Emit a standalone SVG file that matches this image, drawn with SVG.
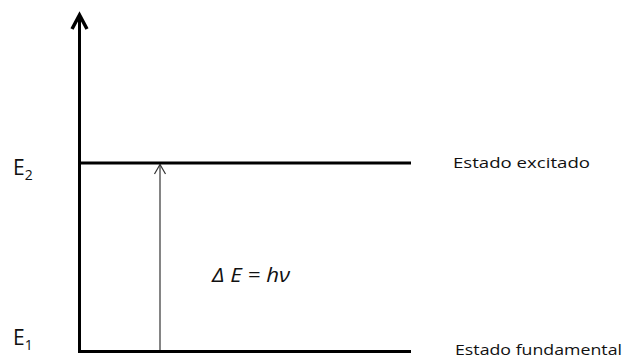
<svg xmlns="http://www.w3.org/2000/svg" width="630" height="358" viewBox="0 0 630 358">
<style>
.lvl{stroke:#000;stroke-width:3;fill:none}
.lbl{font-family:"Open Sans","Liberation Sans",sans-serif;fill:#111}
</style>
<rect width="630" height="358" fill="#fff"/>
<g id="connectors">
<path class="lvl" d="M79.5 353V16"/>
<path d="M72 29L79.5 15L87 29" stroke="#000" stroke-width="3.5" fill="none" stroke-linejoin="miter"/>
<path d="M160 351V165" stroke="#333" stroke-width="1.2"/>
<path d="M154.5 174L160 164.5L165.5 174" stroke="#333" stroke-width="1.2" fill="none"/>
</g>
<g id="E2">
<path class="lvl" d="M78 163H411"/>
<text class="lbl" x="13" y="175" font-size="21">E<tspan font-size="14" dy="5">2</tspan></text>
<text class="lbl" x="453" y="168" font-size="15" textLength="137" lengthAdjust="spacingAndGlyphs">Estado excitado</text>
</g>
<g id="E1">
<path class="lvl" d="M78 351.5H411"/>
<text class="lbl" x="13" y="345" font-size="21">E<tspan font-size="14" dy="5">1</tspan></text>
<text class="lbl" x="455" y="355" font-size="15" textLength="167" lengthAdjust="spacingAndGlyphs">Estado fundamental</text>
</g>
<g id="delta">
<text class="lbl" x="212" y="282" font-size="20" font-style="italic" textLength="78" lengthAdjust="spacingAndGlyphs">Δ E = hν</text>
</g>
</svg>
